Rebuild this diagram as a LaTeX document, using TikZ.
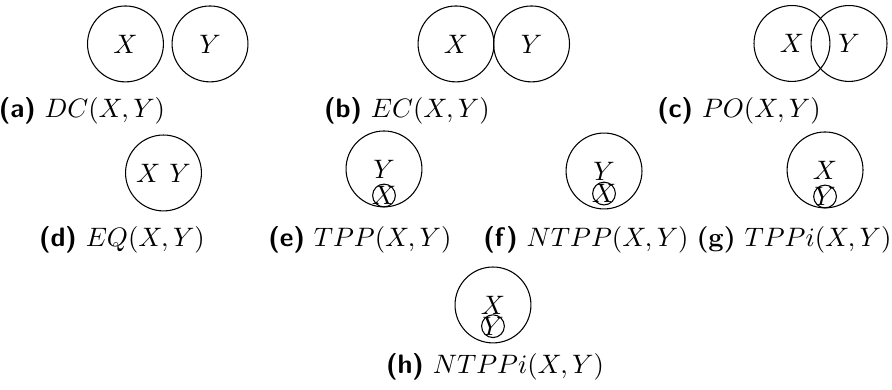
\documentclass[tikz,border=0pt]{standalone}
\usetikzlibrary{positioning}
\tikzset{
  region/.style={circle, draw, minimum size=1cm, inner sep=0pt},
  part/.style={circle, draw, minimum size=0.3cm, inner sep=0pt},
  caption/.style={inner sep=0pt}
}
\newcommand{\sublabel}[1]{\textsf{\textbf{(#1)}}}
\begin{document}
\begin{tikzpicture}
  \useasboundingbox (0,0) rectangle (11.752,5.138);
  % top row
  \node[region] (aX) at (1.653,4.559) {$X$};
  \node[region] (aY) at (2.767,4.559) {$Y$};
  \node[caption] (acap) at (1.080,3.676) {\sublabel{a} $DC(X,Y)$};
  \node[region] (bX) at (6.008,4.559) {$X$};
  \node[region] (bY) at (7.003,4.559) {$Y$};
  \node[caption] (bcap) at (5.362,3.676) {\sublabel{b} $EC(X,Y)$};
  \node[region] (cX) at (10.434,4.565) {$X$};
  \node[region] (cY) at (11.186,4.565) {$Y$};
  \node[caption] (ccap) at (9.736,3.676) {\sublabel{c} $PO(X,Y)$};
  % middle row
  \node[region] (dXY) at (2.154,2.859) {$X$ $Y$};
  \node[caption] (dcap) at (1.607,1.976) {\sublabel{d} $EQ(X,Y)$};
  \node[region] (eY) at (5.059,2.912) {$Y$};
  \node[part, label=center:$X$, above=0pt of eY.south] (eX) {};
  \node[caption] (ecap) at (4.743,1.976) {\sublabel{e} $TPP(X,Y)$};
  \node[region] (fY) at (7.958,2.885) {$Y$};
  \node[part, label=center:$X$, above=1.5pt of fY.south] (fX) {};
  \node[caption] (fcap) at (7.721,1.976) {\sublabel{f} $NTPP(X,Y)$};
  \node[region] (gX) at (10.870,2.899) {$X$};
  \node[part, label=center:$Y$, above=0pt of gX.south] (gY) {};
  \node[caption] (gcap) at (10.461,1.976) {\textbf{(g)} $TPPi(X,Y)$};
  % bottom row
  \node[region] (hX) at (6.495,1.120) {$X$};
  \node[part, label=center:$Y$, above=2pt of hX.south] (hY) {};
  \node[caption] (hcap) at (6.522,0.303) {\sublabel{h} $NTPPi(X,Y)$};
\end{tikzpicture}
\end{document}
